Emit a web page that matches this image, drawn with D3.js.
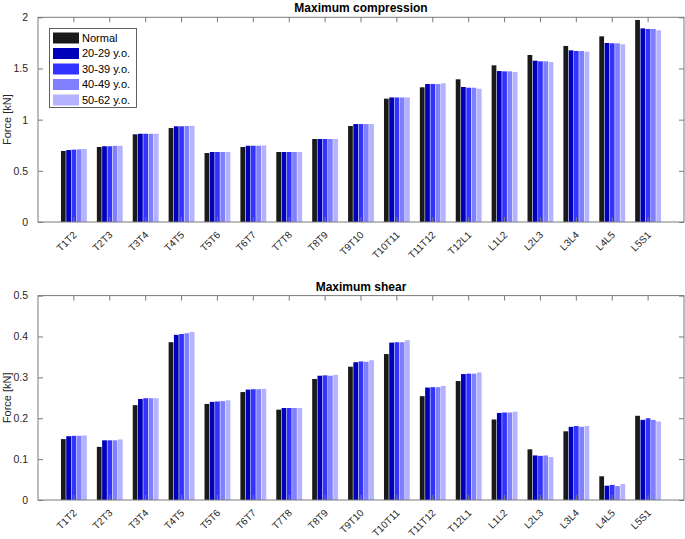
<!DOCTYPE html>
<html>
<head>
<meta charset="utf-8">
<script src="https://d3js.org/d3.v7.min.js"></script>
<style>
  body { margin: 0; background: #fff; }
  svg { display: block; font-family: "Liberation Sans", Arial, Helvetica, sans-serif; }
</style>
</head>
<body>
<svg id="chart" width="685" height="539"></svg>
<script>
// ---------- data ----------
const categories = ["T1T2","T2T3","T3T4","T4T5","T5T6","T6T7","T7T8","T8T9","T9T10","T10T11","T11T12","T12L1","L1L2","L2L3","L3L4","L4L5","L5S1"];
const seriesNames = ["Normal","20-29 y.o.","30-39 y.o.","40-49 y.o.","50-62 y.o."];
const seriesColors = ["#1a1a1a","#0000b8","#3333ff","#8080ff","#b3b3ff"];

// Maximum compression [kN]
const compNormal = [0.694,0.733,0.857,0.918,0.674,0.733,0.684,0.811,0.938,1.205,1.316,1.394,1.531,1.632,1.720,1.814,1.974];
const comp20 = [0.703,0.740,0.862,0.935,0.684,0.745,0.684,0.811,0.957,1.217,1.348,1.319,1.475,1.576,1.677,1.749,1.892];
const comp30 = [0.707,0.740,0.862,0.935,0.684,0.745,0.684,0.811,0.957,1.217,1.348,1.312,1.472,1.570,1.671,1.746,1.886];
const comp40 = [0.710,0.744,0.862,0.938,0.684,0.745,0.684,0.811,0.957,1.217,1.348,1.312,1.472,1.570,1.671,1.746,1.886];
const comp50 = [0.713,0.745,0.862,0.940,0.684,0.748,0.684,0.811,0.957,1.218,1.355,1.302,1.466,1.563,1.664,1.736,1.873];

// Maximum shear [kN]
const shearNormal = [0.149,0.130,0.232,0.386,0.235,0.264,0.221,0.296,0.326,0.357,0.254,0.291,0.197,0.124,0.168,0.058,0.206];
const shear20 = [0.156,0.146,0.247,0.404,0.240,0.270,0.225,0.304,0.337,0.385,0.275,0.308,0.213,0.109,0.179,0.035,0.196];
const shear30 = [0.157,0.146,0.249,0.406,0.241,0.271,0.225,0.305,0.339,0.386,0.276,0.309,0.214,0.108,0.181,0.037,0.200];
const shear40 = [0.157,0.146,0.249,0.408,0.242,0.271,0.225,0.304,0.338,0.386,0.276,0.309,0.214,0.109,0.179,0.034,0.196];
const shear50 = [0.158,0.148,0.249,0.411,0.244,0.272,0.225,0.306,0.342,0.391,0.279,0.312,0.216,0.105,0.181,0.039,0.192];

const compTicks = [0, 0.5, 1, 1.5, 2];
const shearTicks = [0, 0.1, 0.2, 0.3, 0.4, 0.5];

// ---------- drawing ----------
const svg = d3.select("#chart");
const left = 38, right = 684;
const axisColor = "#7a7a7a";
const textColor = "#262626";

function panel(opts) {
  const { top, bottom, yMax, ticks, series, title, showLegend } = opts;
  const g = svg.append("g");

  const x0 = d3.scaleBand().domain(categories).range([left, right])
    .paddingInner(0).paddingOuter(0.5);
  const step = x0.step();
  const groupW = step * 0.735;
  const x1 = d3.scaleBand().domain(seriesNames)
    .range([(step - groupW) / 2, (step + groupW) / 2]).paddingInner(0.1).paddingOuter(0.05);
  const y = d3.scaleLinear().domain([0, yMax]).range([bottom, top]);

  // bars
  categories.forEach((c, i) => {
    const grp = g.append("g").attr("transform", `translate(${x0(c)},0)`);
    seriesNames.forEach((s, k) => {
      const v = series[k][i];
      grp.append("rect")
        .attr("x", x1(s)).attr("width", x1.bandwidth())
        .attr("y", y(v)).attr("height", y(0) - y(v))
        .attr("fill", seriesColors[k]);
    });
  });

  // box
  g.append("rect").attr("x", left).attr("y", top).attr("width", right - left).attr("height", bottom - top)
    .attr("fill", "none").attr("stroke", axisColor).attr("stroke-width", 1);

  // y axis (left) with inward ticks
  const yAxis = d3.axisLeft(y).tickValues(ticks).tickSize(-5).tickPadding(10)
    .tickFormat(d => d3.format("~g")(d));
  const ya = g.append("g").attr("transform", `translate(${left},0)`).call(yAxis);
  ya.select(".domain").remove();
  ya.selectAll("line").attr("stroke", axisColor);
  ya.selectAll("text").attr("fill", textColor).style("font-size", "10.5px");

  // y axis right ticks
  const yR = d3.axisRight(y).tickValues(ticks).tickSize(-5).tickFormat("");
  const yra = g.append("g").attr("transform", `translate(${right},0)`).call(yR);
  yra.select(".domain").remove();
  yra.selectAll("line").attr("stroke", axisColor);

  // x axis bottom with inward ticks
  const xAxis = d3.axisBottom(x0).tickSize(-5).tickFormat("");
  const xa = g.append("g").attr("transform", `translate(0,${bottom})`).call(xAxis);
  xa.select(".domain").remove();
  xa.selectAll("line").attr("stroke", axisColor);
  // top ticks
  const xAxisT = d3.axisTop(x0).tickSize(-5).tickFormat("");
  const xt = g.append("g").attr("transform", `translate(0,${top})`).call(xAxisT);
  xt.select(".domain").remove();
  xt.selectAll("line").attr("stroke", axisColor);

  // rotated x labels
  categories.forEach(c => {
    const cx = x0(c) + step / 2;
    g.append("text")
      .attr("transform", `translate(${cx + 1},${bottom + 11}) rotate(-45)`)
      .attr("text-anchor", "end").attr("dy", "0.35em")
      .attr("fill", textColor).style("font-size", "10px")
      .text(c);
  });

  // title
  g.append("text").attr("x", (left + right) / 2).attr("y", top - 5)
    .attr("text-anchor", "middle").attr("font-weight", "bold")
    .attr("fill", "#000").style("font-size", "12px").text(title);

  // y label
  g.append("text")
    .attr("transform", `translate(11,${(top + bottom) / 2}) rotate(-90)`)
    .attr("text-anchor", "middle").attr("fill", textColor).style("font-size", "11px")
    .text("Force [kN]");

  if (showLegend) {
    const lg = g.append("g");
    lg.append("rect").attr("x", 49.5).attr("y", 28.5).attr("width", 87).attr("height", 79)
      .attr("fill", "#fff").attr("stroke", "#3a3a3a").attr("stroke-width", 0.8);
    seriesNames.forEach((s, k) => {
      const cy = 38 + k * 15.5;
      lg.append("rect").attr("x", 53).attr("y", cy - 5.5).attr("width", 26).attr("height", 11)
        .attr("fill", seriesColors[k]);
      lg.append("text").attr("x", 82).attr("y", cy).attr("dy", "0.36em")
        .attr("fill", "#000").style("font-size", "11px").text(s);
    });
  }
}

panel({ top: 17.3, bottom: 222, yMax: 2, ticks: compTicks,
  series: [compNormal, comp20, comp30, comp40, comp50],
  title: "Maximum compression", showLegend: true });
panel({ top: 295.6, bottom: 500, yMax: 0.5, ticks: shearTicks,
  series: [shearNormal, shear20, shear30, shear40, shear50],
  title: "Maximum shear", showLegend: false });
</script>
</body>
</html>
